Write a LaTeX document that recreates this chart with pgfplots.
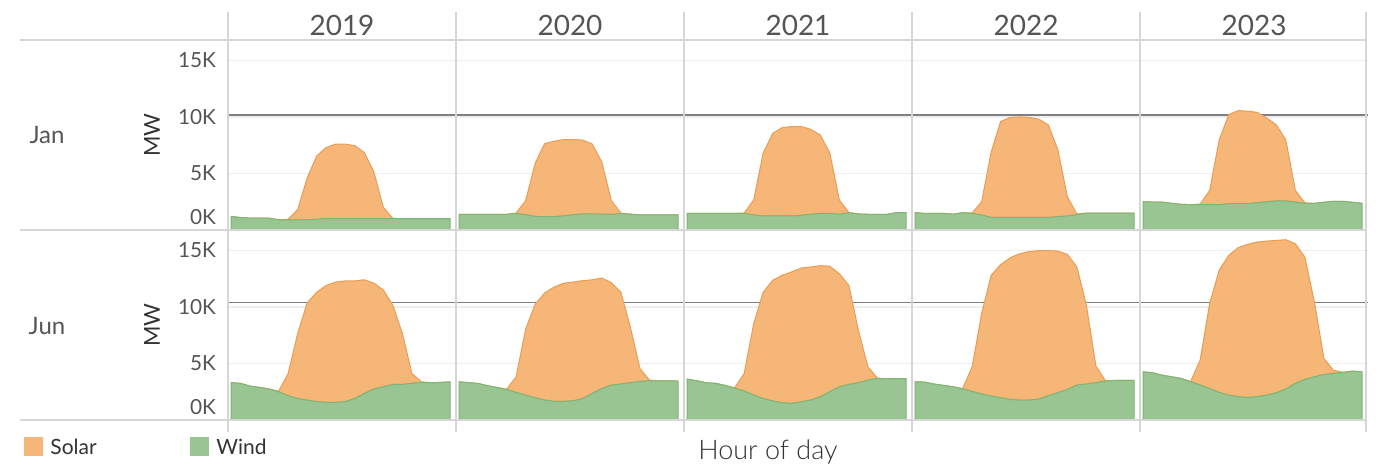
\documentclass[border=0pt]{standalone}
\usepackage{pgfplots}
\usepackage{pgfplotstable}
\pgfplotsset{compat=1.18}
\usepackage{fontspec}
\setmainfont{Lato}
\newfontfamily\latolight{Lato Light}

\definecolor{solarfill}{HTML}{F5B678}
\definecolor{solaredge}{HTML}{E99D55}
\definecolor{windfill}{HTML}{98C592}
\definecolor{windedge}{HTML}{7DB574}
\definecolor{sepc}{HTML}{D6D6D6}
\definecolor{gridc}{HTML}{EEEEEE}
\definecolor{refc}{HTML}{808080}
\definecolor{txt}{HTML}{555555}
\definecolor{dark}{HTML}{333333}

% MW by hour of day, wind (w) and solar (s) stacked
\pgfplotstableread{
h  w2019 s2019 w2020 s2020 w2021 s2021 w2022 s2022 w2023 s2023
0  1200  0     1390  0     1470  0     1530  0     2500  0
1  1100  0     1390  0     1470  0     1470  0     2470  0
2  1050  0     1390  0     1470  0     1470  0     2470  0
3  1050  0     1390  0     1470  0     1470  0     2360  0
4  1050  0     1390  0     1470  0     1400  0     2270  0
5  900   0     1390  0     1470  0     1530  0     2240  0
6  900   50    1450  50    1470  30    1470  30    2240  60
7  900   900   1350  1250  1330  1320  1330  1170  2240  1260
8  900   3700  1200  4700  1240  5560  1120  5780  2240  5720
9  950   5600  1180  6470  1240  7310  1120  8480  2330  7870
10 1000  6300  1180  6670  1240  7810  1120  8830  2330  8230
11 1000  6600  1250  6750  1240  7910  1120  8880  2330  8170
12 1000  6600  1350  6650  1300  7850  1120  8830  2420  7980
13 1000  6450  1420  6530  1390  7510  1120  8680  2500  7400
14 1000  5850  1420  6180  1470  6930  1120  8180  2570  6730
15 1000  4150  1400  4600  1470  5330  1180  5920  2570  5390
16 1000  1000  1380  1220  1390  1260  1240  1710  2470  1030
17 1000  30    1450  50    1530  20    1360  60    2360  40
18 1000  0     1400  0     1420  0     1500  0     2360  0
19 1000  0     1330  0     1390  0     1500  0     2450  0
20 1000  0     1330  0     1390  0     1500  0     2540  0
21 1000  0     1330  0     1390  0     1500  0     2540  0
22 1000  0     1330  0     1530  0     1500  0     2450  0
23 1000  0     1330  0     1530  0     1500  0     2360  0
}\jantab

\pgfplotstableread{
h  w2019 s2019 w2020 s2020 w2021 s2021 w2022 s2022 w2023 s2023
0  3300  0     3380  0     3620  0     3380  0     4260  0
1  3240  0     3300  0     3470  0     3350  0     4180  0
2  3000  0     3240  0     3300  0     3180  0     3970  0
3  2880  0     3030  0     3240  0     3060  0     3820  0
4  2740  0     2880  0     3060  0     2940  0     3680  0
5  2500  50    2700  20    2820  30    2760  20    3380  20
6  2150  1950  2440  1380  2560  1540  2530  2170  3090  2210
7  1900  5750  2200  5830  2200  6300  2300  7110  2790  7510
8  1760  8590  1970  8270  1900  9400  2120  10680 2440  10800
9  1620  9680  1760  9480  1680  10670 1970  11770 2200  12360
10 1560  10340 1650  10110 1530  11270 1820  12530 2060  13180
11 1560  10640 1650  10450 1470  11630 1760  12940 2000  13530
12 1620  10680 1700  10500 1620  11820 1760  13140 2060  13680
13 1900  10400 1900  10420 1760  11770 1850  13120 2200  13620
14 2350  10050 2350  10050 2060  11590 2150  12820 2410  13470
15 2740  9360  2790  9760  2500  11100 2410  12530 2740  13200
16 2940  8560  3090  9060  2940  10000 2700  11950 3240  12350
17 3150  7000  3180  8120  3150  8750  3090  10440 3590  10810
18 3150  4500  3300  4900  3300  4640  3180  6970  3820  6620
19 3240  860   3410  1150  3530  1170  3300  1460  4030  1410
20 3320  60    3470  60    3680  20    3440  30    4120  280
21 3300  0     3470  0     3650  0     3500  0     4200  20
22 3320  0     3470  0     3650  0     3500  0     4320  0
23 3380  0     3440  0     3650  0     3500  0     4260  0
}\juntab

\pgfplotsset{
  panel/.style={
    anchor=south west, scale only axis, width=114pt, height=95pt,
    xmin=-0.315, xmax=23.63, ymin=0, ymax=16800,
    axis line style={draw=none}, major tick style={draw=none},
    xtick=\empty, ytick={5000,10000,15000}, yticklabels={},
    scaled y ticks=false,
    ymajorgrids, major grid style={gridc, line width=0.7pt},
    yticklabel style={font=\fontsize{10.4}{12}\selectfont, text=txt, xshift=-2.5pt},
    stack plots=y,
  },
  firstcol/.style={
    yticklabels={5K,10K,15K},
    extra y ticks={0}, extra y tick labels={0K},
    extra y tick style={ymajorgrids=false, yticklabel style={yshift=6.5pt}},
  },
}

% #1 x, #2 y, #3 table, #4 year, #5 reference line, #6 extra options
\newcommand\panel[6]{%
\begin{axis}[panel, at={(#1,#2)}, #6]
\addplot[draw=windedge, fill=windfill, line width=0.5pt] table[x=h, y=w#4]{#3} \closedcycle;
\addplot[draw=solaredge, fill=solarfill, line width=0.5pt] table[x=h, y=s#4]{#3} \closedcycle;
\draw[refc, line width=0.8pt] (axis cs:-0.315,#5) -- (axis cs:23.63,#5);
\end{axis}}

\begin{document}
\begin{tikzpicture}
\useasboundingbox (0,0) rectangle (693.5pt,233pt);

\panel{114pt}{118pt}{\jantab}{2019}{10150}{firstcol}
\panel{228pt}{118pt}{\jantab}{2020}{10150}{}
\panel{342pt}{118pt}{\jantab}{2021}{10150}{}
\panel{456pt}{118pt}{\jantab}{2022}{10150}{}
\panel{570pt}{118pt}{\jantab}{2023}{10150}{}

\panel{114pt}{23pt}{\juntab}{2019}{10400}{firstcol}
\panel{228pt}{23pt}{\juntab}{2020}{10400}{}
\panel{342pt}{23pt}{\juntab}{2021}{10400}{}
\panel{456pt}{23pt}{\juntab}{2022}{10400}{}
\panel{570pt}{23pt}{\juntab}{2023}{10400}{}

% separators
\foreach \yy in {213pt,118pt,23pt}
  \draw[sepc, line width=0.8pt] (10pt,\yy) -- (683pt,\yy);
\foreach \xx in {114pt,228pt,342pt,456pt,570pt,683pt}
  \draw[sepc, line width=0.8pt] (\xx,227pt) -- (\xx,17pt);

% column headers
\foreach \xx/\yr in {171pt/2019,285pt/2020,399pt/2021,513pt/2022,627pt/2023}
  \node[font=\fontsize{14}{16}\selectfont, text=txt] at (\xx,220.5pt) {\yr};

% row headers
\node[font=\fontsize{12}{14}\selectfont, text=txt] at (23.5pt,165.5pt) {Jan};
\node[font=\fontsize{12}{14}\selectfont, text=txt] at (23.5pt,70pt) {Jun};
\node[font=\fontsize{11}{13}\selectfont, text=dark, rotate=90] at (76pt,165.5pt) {MW};
\node[font=\fontsize{11}{13}\selectfont, text=dark, rotate=90] at (76pt,70.5pt) {MW};

% legend
\fill[solarfill] (12pt,5pt) rectangle (21.5pt,14.5pt);
\node[anchor=west, font=\fontsize{10.5}{12}\selectfont, text=dark, inner sep=0pt] at (25pt,9.5pt) {Solar};
\fill[windfill] (95pt,5pt) rectangle (104.5pt,14.5pt);
\node[anchor=west, font=\fontsize{10.5}{12}\selectfont, text=dark, inner sep=0pt] at (108pt,9.5pt) {Wind};

\node[font=\latolight\fontsize{13.5}{15}\selectfont, text=dark] at (384pt,7pt) {Hour of day};
\end{tikzpicture}
\end{document}
